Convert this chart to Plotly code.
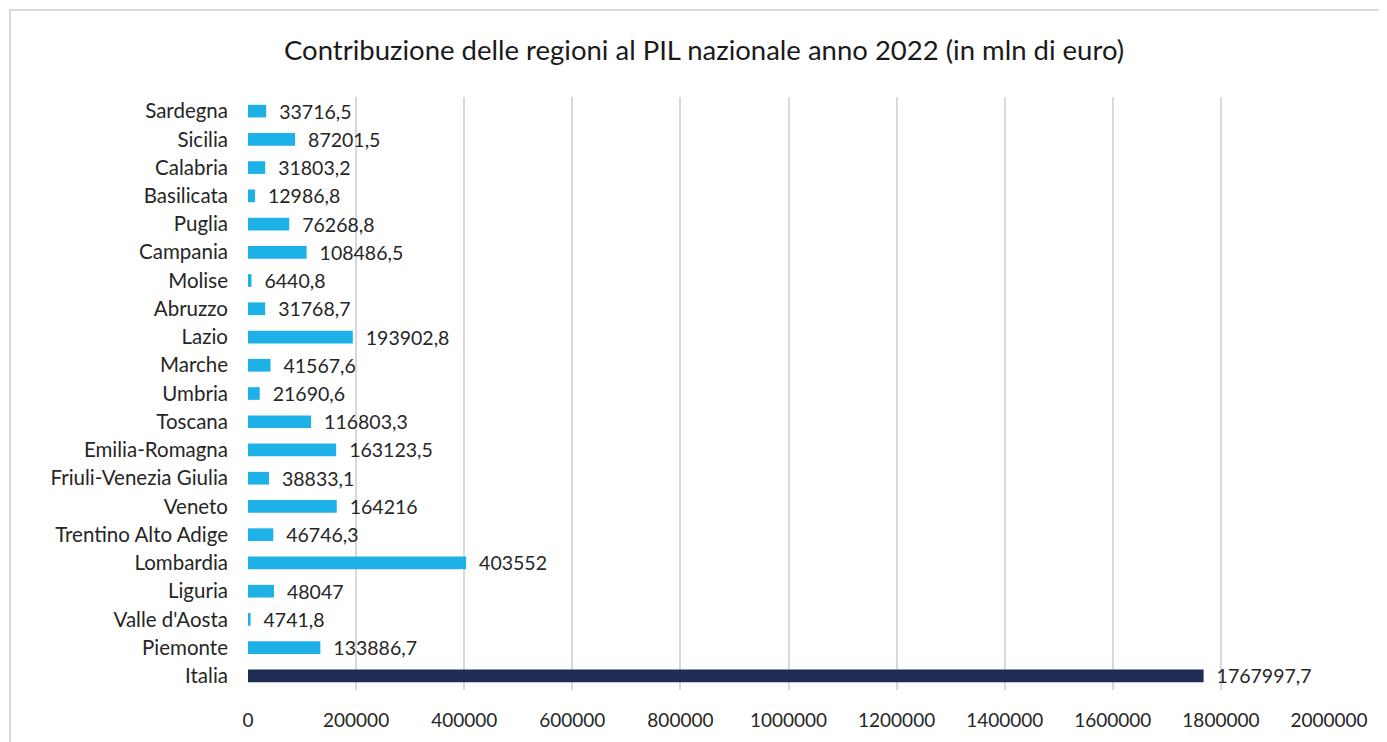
import plotly.graph_objects as go

categories = ["Italia", "Piemonte", "Valle d'Aosta", "Liguria", "Lombardia",
              "Trentino Alto Adige", "Veneto", "Friuli-Venezia Giulia",
              "Emilia-Romagna", "Toscana", "Umbria", "Marche", "Lazio",
              "Abruzzo", "Molise", "Campania", "Puglia", "Basilicata",
              "Calabria", "Sicilia", "Sardegna"]
values = [1767997.7, 133886.7, 4741.8, 48047, 403552, 46746.3, 164216,
          38833.1, 163123.5, 116803.3, 21690.6, 41567.6, 193902.8, 31768.7,
          6440.8, 108486.5, 76268.8, 12986.8, 31803.2, 87201.5, 33716.5]
tick_vals = [0, 200000, 400000, 600000, 800000, 1000000, 1200000,
             1400000, 1600000, 1800000, 2000000]
tick_text = [str(v) for v in tick_vals]
title_text = "Contribuzione delle regioni al PIL nazionale anno 2022 (in mln di euro)"

LIGHT = "#1EB1E7"
NAVY = "#1F2C56"
FONT = "Lato, Open Sans, sans-serif"
TXT = "#262626"

W, H = 1379, 734          # page body has an 8px margin
L, T = 240, 89
PW, PH = 1081, 593


def fmt(v):
    if float(v).is_integer():
        return str(int(v))
    return str(v).replace(".", ",")


colors = [NAVY if c == "Italia" else LIGHT for c in categories]
labels = ["  " + fmt(v) for v in values]

fig = go.Figure(go.Bar(
    x=values, y=categories, orientation="h",
    marker=dict(color=colors, line=dict(width=0)),
    text=labels, textposition="outside", constraintext="none",
    textfont=dict(family=FONT, size=19.5, color=TXT),
    cliponaxis=False,
))

fig.update_layout(
    width=W, height=H,
    margin=dict(l=L, r=W - L - PW, t=T, b=H - T - PH, pad=0),
    paper_bgcolor="white", plot_bgcolor="white",
    bargap=0.55,
    showlegend=False,
    font=dict(family=FONT, size=19, color=TXT),
    title=dict(text=title_text, x=696 / W, xref="container", xanchor="center",
               y=1 - 42 / H, yref="container", yanchor="middle",
               font=dict(family=FONT, size=27.5, color="#1a1a1a")),
    xaxis=dict(range=[0, 2000000], tickvals=tick_vals, ticktext=tick_text,
               showgrid=True, gridcolor="#d9d9d9", gridwidth=2,
               zeroline=False, showline=False, ticks="",
               ticklabelstandoff=17,
               tickfont=dict(family=FONT, size=19, color=TXT)),
    yaxis=dict(showgrid=False, zeroline=False, showline=False, ticks="",
               ticklabelstandoff=19,
               tickfont=dict(family=FONT, size=20.5, color=TXT)),
    shapes=[dict(type="rect", xref="paper", yref="paper",
                 x0=(2 - L) / PW, x1=(W + 10 - L) / PW,
                 y0=-(70 / PH), y1=1 + 87 / PH,
                 line=dict(color="#d9d9d9", width=2), layer="below")],
)

fig.write_html("out.html")
